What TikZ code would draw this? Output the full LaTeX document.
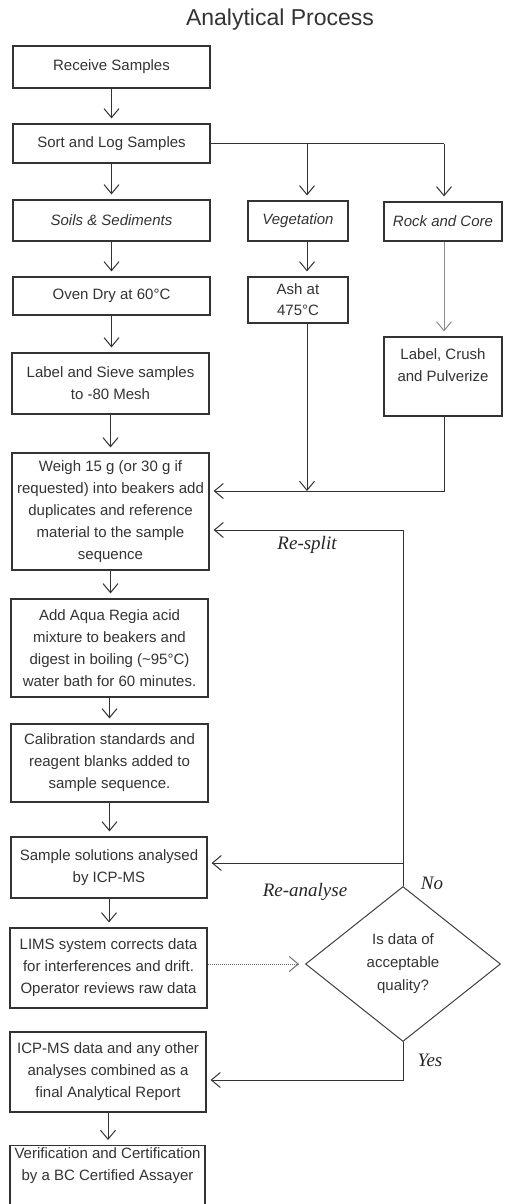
\documentclass[tikz,border=0pt]{standalone}
\usepackage{fontspec}
\usetikzlibrary{arrows.meta,shapes.geometric}
\newfontfamily\bodyfont{Liberation Sans}
\newfontfamily\labfont{Liberation Serif}
\tikzset{
  box/.style={draw=black!80, line width=1.2pt, rectangle, align=center,
    inner xsep=2pt, inner ysep=2pt, text=black!80,
    font=\bodyfont\fontsize{15}{22}\selectfont},
  ibox/.style={box, font=\bodyfont\itshape\fontsize{15}{22}\selectfont},
  ln/.style={draw=black!80, line width=1pt},
  arr/.style={ln, -{Straight Barb[length=9pt,width=15pt,line width=1pt]}, shorten >=5pt},
  dotarr/.style={arr, draw=black!55, densely dotted},
  lab/.style={font=\labfont\itshape\fontsize{19}{22}\selectfont, text=black!85, inner sep=0pt},
  dia/.style={diamond, draw=black!75, line width=1pt, inner sep=0pt, align=center,
    text=black!80, font=\bodyfont\fontsize{15}{23}\selectfont},
}
\begin{document}
\begin{tikzpicture}[x=1pt,y=-1pt]
\useasboundingbox (0,0) rectangle (504,1204);
\fill[white] (0,0) rectangle (504,1204);
\node[font=\bodyfont\fontsize{23}{26}\selectfont, text=black!80] (title) at (280,20) {Analytical Process};
% left column
\node[box, minimum width=197pt, minimum height=42pt] (recv) at (111.5,67) {Receive Samples};
\node[box, minimum width=197pt, minimum height=39pt] (sort) at (111.5,143.5) {Sort and Log Samples};
\node[ibox, minimum width=197pt, minimum height=41pt] (soil) at (111.5,220.5) {Soils \& Sediments};
\node[box, minimum width=197pt, minimum height=38pt] (oven) at (111.5,296) {Oven Dry at 60°C};
\node[box, minimum width=197pt, minimum height=61pt] (sieve) at (110.5,383.5) {Label and Sieve samples\\to -80 Mesh};
\node[box, minimum width=197pt, minimum height=117pt] (weigh) at (110.5,511.5) {Weigh 15 g (or 30 g if\\requested) into beakers add\\duplicates and reference\\material to the sample\\sequence};
\node[box, minimum width=197pt, minimum height=98pt] (aqua) at (109.5,648) {Add Aqua Regia acid\\mixture to beakers and\\digest in boiling (\textasciitilde95°C)\\water bath for 60 minutes.};
\node[box, minimum width=197pt, minimum height=78pt] (calib) at (109.5,763) {Calibration standards and\\reagent blanks added to\\sample sequence.};
\node[box, minimum width=196pt, minimum height=61pt] (sample) at (109,867.5) {Sample solutions analysed\\by ICP-MS};
\node[box, minimum width=197pt, minimum height=80pt] (lims) at (108.5,968) {LIMS system corrects data\\for interferences and drift.\\Operator reviews raw data};
\node[box, minimum width=196pt, minimum height=80pt] (report) at (108,1072) {ICP-MS data and any other\\analyses combined as a\\final Analytical Report};
\node[box, minimum width=195pt, minimum height=64pt, anchor=north] (verif) at (107.5,1145) {Verification and Certification\\by a BC Certified Assayer\\[6pt]};
% right columns
\node[ibox, minimum width=100pt, minimum height=40pt] (veg) at (298,221) {Vegetation};
\node[box, minimum width=100pt, minimum height=46pt, inner ysep=0pt, font=\bodyfont\fontsize{15}{21}\selectfont] (ash) at (298,300) {Ash at\\475°C};
\node[ibox, minimum width=118pt, minimum height=39pt] (rock) at (443,221.5) {Rock and Core};
\node[box, minimum width=118pt, minimum height=79pt] (crush) at (443,376.5) {Label, Crush\\and Pulverize\\~};
% diamond
\node[dia, minimum width=195pt, minimum height=155pt] (dq) at (403,964) {Is data of\\acceptable\\quality?};
% coordinates
\coordinate (bv) at (307,143.5);
\coordinate (br) at (444,143.5);
\coordinate (j) at (307,491);
\coordinate (rs) at (403,530);
\coordinate (ra) at (403,863);
\coordinate (yy) at (403,1080);
% main column arrows
\draw[arr] (recv.south) -- (recv.south |- sort.north);
\draw[arr] (sort.south) -- (sort.south |- soil.north);
\draw[arr] (soil.south) -- (soil.south |- oven.north);
\draw[arr] (oven.south) -- (oven.south |- sieve.north);
\draw[arr] (sieve.south) -- (sieve.south |- weigh.north);
\draw[arr] (weigh.south) -- (weigh.south |- aqua.north);
\draw[arr] (aqua.south) -- (aqua.south |- calib.north);
\draw[arr] (calib.south) -- (calib.south |- sample.north);
\draw[arr] (sample.south) -- (sample.south |- lims.north);
\draw[arr] (report.south) -- (report.south |- verif.north);
% branches
\draw[ln] (sort.east) -- (br);
\draw[arr] (bv) -- (bv |- veg.north);
\draw[arr] (br) -- (br |- rock.north);
\draw[arr] (veg.south -| bv) -- (ash.north -| bv);
\draw[arr, shorten >=0pt] (ash.south -| bv) -- (j);
\draw[arr, draw=black!45] (rock.south -| br) -- (crush.north -| br);
\draw[arr, shorten >=4pt] (crush.south -| br) |- (weigh.east |- j);
% loops
\draw[arr, shorten >=4pt] (dq.north) |- (weigh.east |- rs);
\draw[arr, shorten >=4pt] (ra) -- (sample.east |- ra);
\draw[arr, shorten >=4pt] (dq.south) |- (report.east |- yy);
\draw[dotarr, shorten >=6pt] (lims.east |- dq.west) -- (dq.west);
% labels
\node[lab] (lsplit) at (307,545) {Re-split};
\node[lab] (lana) at (305,892) {Re-analyse};
\node[lab] (lno) at (432,883) {No};
\node[lab] (lyes) at (430,1060) {Yes};
\end{tikzpicture}
\end{document}
